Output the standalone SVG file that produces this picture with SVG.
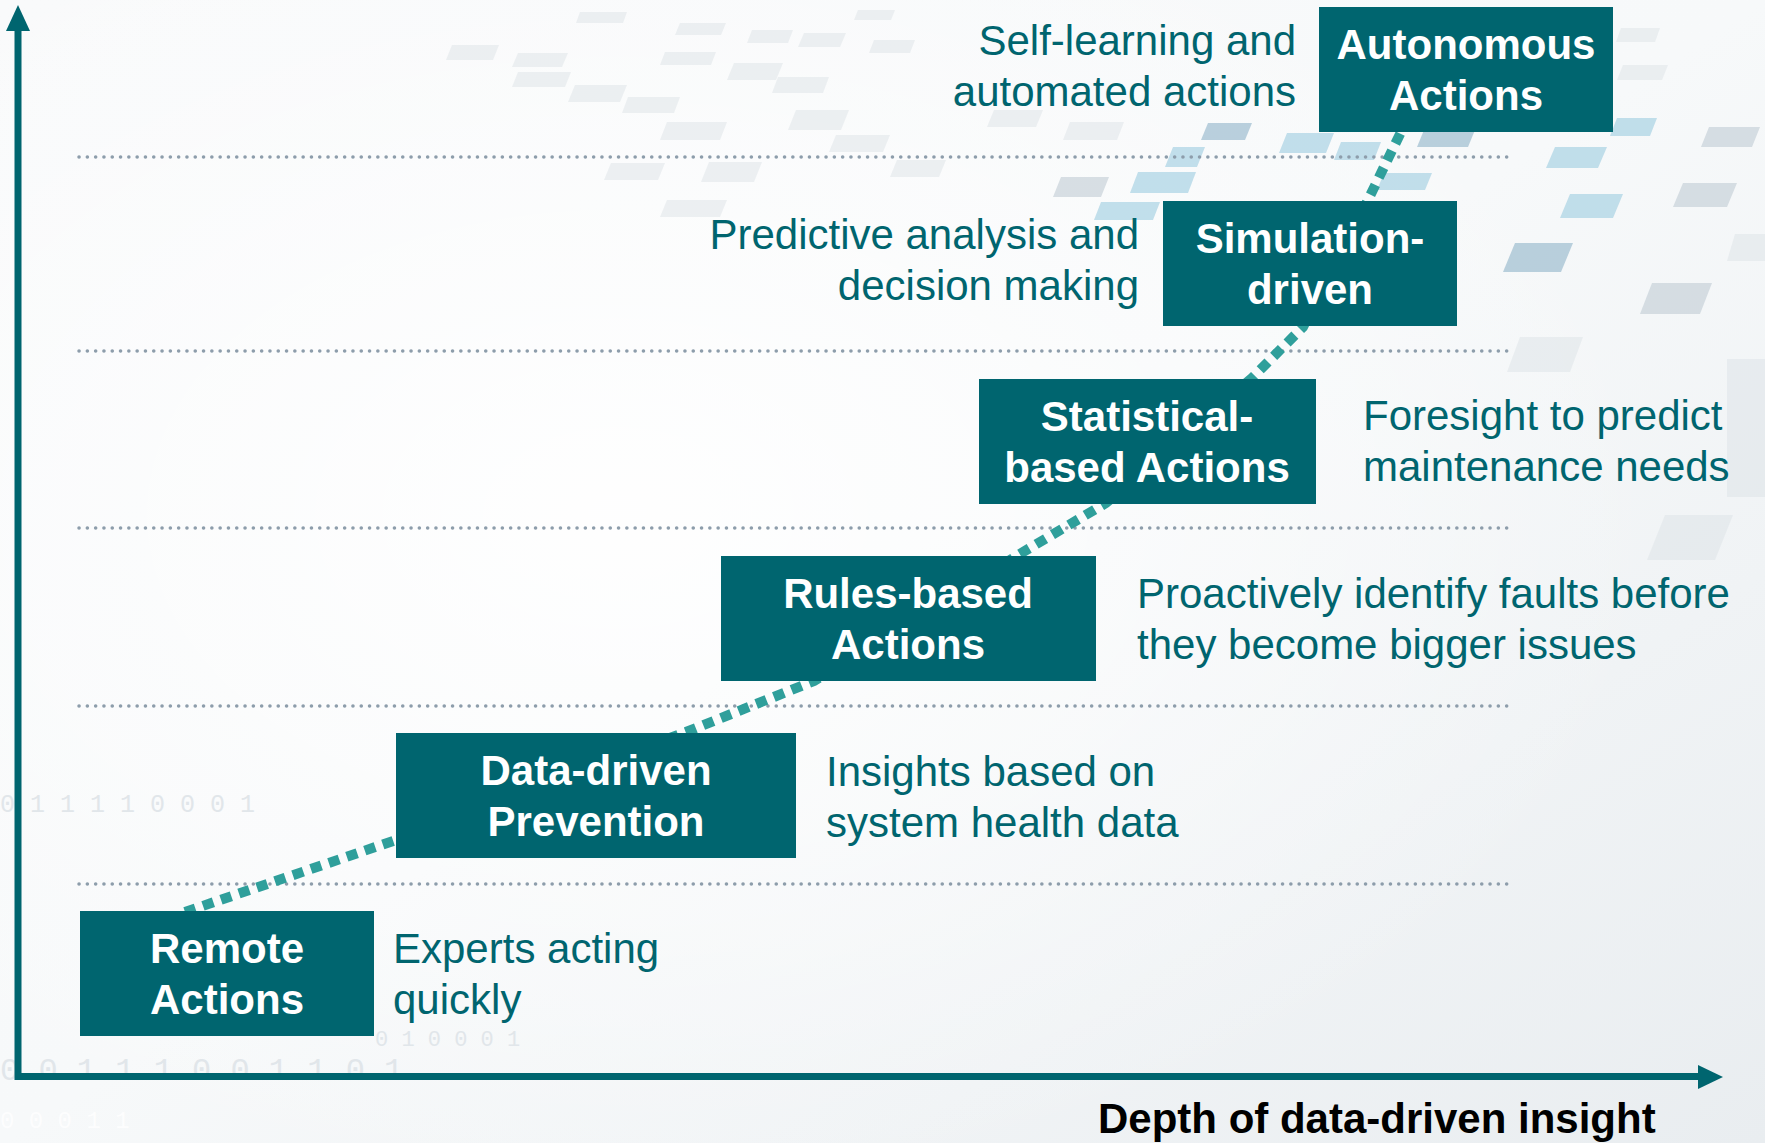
<svg xmlns="http://www.w3.org/2000/svg" width="1765" height="1143" viewBox="0 0 1765 1143">
  <defs>
    <linearGradient id="bg" x1="0" y1="0" x2="1" y2="1">
      <stop offset="0" stop-color="#f9fafb"/>
      <stop offset="0.5" stop-color="#f7f9fa"/>
      <stop offset="1" stop-color="#e9edf0"/>
    </linearGradient>
    <radialGradient id="glow" cx="0.35" cy="0.45" r="0.6">
      <stop offset="0" stop-color="#ffffff" stop-opacity="0.9"/>
      <stop offset="1" stop-color="#ffffff" stop-opacity="0"/>
    </radialGradient>
    <style>
      .box { fill: #00656f; }
      .lbl { font-family: "Liberation Sans", Arial, sans-serif; font-weight: bold; font-size: 42px; fill: #ffffff; text-anchor: middle; }
      .desc { font-family: "Liberation Sans", Arial, sans-serif; font-size: 42px; fill: #00656f; }
      .end { text-anchor: end; }
      .grid { stroke: #8d9dab; stroke-width: 3.5; stroke-linecap: round; stroke-dasharray: 0.1 8.2; fill: none; }
      .axis { stroke: #00656f; stroke-width: 7; fill: none; }
      .axhead { fill: #00656f; }
      .path { stroke: #2f9f9b; stroke-width: 10; stroke-dasharray: 11 8; fill: none; }
      .tf { fill: #d9e0e5; opacity: 0.45; }
      .tg { fill: #bfcbd3; opacity: 0.6; }
      .tb { fill: #a3cfe2; opacity: 0.65; }
      .ts { fill: #97b8cd; opacity: 0.65; }
      .bin { font-family: "Liberation Mono", "DejaVu Sans Mono", monospace; fill: #e1e6ea; }
      .binw { font-family: "Liberation Mono", "DejaVu Sans Mono", monospace; fill: #ffffff; opacity: 0.8; }
      .xlabel { font-family: "Liberation Sans", Arial, sans-serif; font-weight: bold; font-size: 42px; fill: #000000; }
    </style>
  </defs>

  <g id="background">
    <rect x="0" y="0" width="1765" height="1143" fill="url(#bg)"/>
    <rect x="0" y="0" width="1765" height="1143" fill="url(#glow)"/>
    <polygon class="tf" points="452,45 499,45 493,60 446,60"/>
    <polygon class="tf" points="518,53 568,53 562,67 512,67"/>
    <polygon class="tf" points="518,72 571,72 565,87 512,87"/>
    <polygon class="tf" points="575,85 627,85 620,102 568,102"/>
    <polygon class="tf" points="628,97 680,97 674,113 622,113"/>
    <polygon class="tf" points="580,12 627,12 623,23 576,23"/>
    <polygon class="tf" points="665,52 716,52 711,65 660,65"/>
    <polygon class="tf" points="680,23 726,23 721,35 675,35"/>
    <polygon class="tf" points="734,63 783,63 776,80 727,80"/>
    <polygon class="tf" points="752,30 793,30 788,43 747,43"/>
    <polygon class="tf" points="778,77 829,77 823,93 772,93"/>
    <polygon class="tf" points="804,33 846,33 840,47 798,47"/>
    <polygon class="tf" points="667,122 727,122 720,140 660,140"/>
    <polygon class="tf" points="796,110 849,110 841,130 788,130"/>
    <polygon class="tf" points="836,135 890,135 883,152 829,152"/>
    <polygon class="tf" points="874,40 915,40 910,53 869,53"/>
    <polygon class="tf" points="858,10 895,10 891,20 854,20"/>
    <polygon class="tf" points="994,110 1043,110 1036,127 987,127"/>
    <polygon class="tf" points="1070,122 1124,122 1117,140 1063,140"/>
    <polygon class="tf" points="611,163 665,163 658,180 604,180"/>
    <polygon class="tf" points="709,162 762,162 754,182 701,182"/>
    <polygon class="tf" points="897,160 946,160 939,177 890,177"/>
    <polygon class="tf" points="667,200 727,200 720,217 660,217"/>
    <polygon class="tg" points="1061,177 1109,177 1101,197 1053,197"/>
    <polygon class="ts" points="1208,123 1252,123 1245,140 1201,140"/>
    <polygon class="tb" points="1138,172 1196,172 1188,193 1130,193"/>
    <polygon class="tb" points="1101,202 1160,202 1153,220 1094,220"/>
    <polygon class="tb" points="1173,147 1205,147 1197,167 1165,167"/>
    <polygon class="tb" points="1287,133 1334,133 1326,153 1279,153"/>
    <polygon class="tb" points="1341,142 1381,142 1374,160 1334,160"/>
    <polygon class="ts" points="1424,130 1475,130 1468,147 1417,147"/>
    <polygon class="tb" points="1384,173 1432,173 1425,190 1377,190"/>
    <polygon class="tb" points="1555,147 1607,147 1598,168 1546,168"/>
    <polygon class="tb" points="1570,194 1623,194 1613,218 1560,218"/>
    <polygon class="ts" points="1515,243 1573,243 1561,272 1503,272"/>
    <polygon class="tg" points="1652,283 1712,283 1700,314 1640,314"/>
    <polygon class="tg" points="1683,183 1737,183 1727,207 1673,207"/>
    <polygon class="tg" points="1709,127 1760,127 1752,147 1701,147"/>
    <polygon class="tb" points="1617,118 1657,118 1650,136 1610,136"/>
    <polygon class="tf" points="1623,65 1668,65 1662,80 1617,80"/>
    <polygon class="tf" points="1621,28 1660,28 1655,42 1616,42"/>
    <polygon class="tf" points="1735,234 1765,234 1765,261 1727,261"/>
    <polygon class="tf" points="1520,337 1583,337 1570,372 1507,372"/>
    <polygon class="tf" points="1665,515 1733,515 1715,560 1647,560" opacity="0.3"/>
    <rect class="tf" x="1727" y="359" width="38" height="138"/>
    <text class="bin" x="0" y="812" font-size="25" xml:space="preserve">0 1 1 1 1 0 0 0 1</text>
    <text class="bin" x="375" y="1046" font-size="22" xml:space="preserve">0 1 0 0 0 1</text>
    <text class="bin" x="0" y="1080" font-size="32" xml:space="preserve">0 0 1 1 1 0 0 1 1 0 1</text>
    <text class="binw" x="0" y="1128" font-size="24" xml:space="preserve">0 0 0 1 1</text>
  </g>

  <g id="gridlines">
    <line class="grid" x1="79" y1="157" x2="1512" y2="157"/>
    <line class="grid" x1="79" y1="351" x2="1512" y2="351"/>
    <line class="grid" x1="79" y1="528" x2="1512" y2="528"/>
    <line class="grid" x1="79" y1="706" x2="1512" y2="706"/>
    <line class="grid" x1="79" y1="884" x2="1512" y2="884"/>
  </g>

  <g id="axes">
    <polyline class="axis" points="18,28 18,1076.5 1700,1076.5"/>
    <polygon class="axhead" points="18,5 6,31 30,31"/>
    <polygon class="axhead" points="1723,1077 1698,1065 1698,1089"/>
    <text class="xlabel" x="1098" y="1133">Depth of data-driven insight</text>
  </g>

  <g id="connectors">
    <polyline class="path" points="185,912 396,840 686,732 814,681 1018,555 1106,503 1252,378 1303,327 1368,200 1401,132"/>
  </g>

  <g id="node-remote">
    <rect class="box" x="80" y="911" width="294" height="125"/>
    <text class="lbl" x="227" y="963">Remote</text>
    <text class="lbl" x="227" y="1014">Actions</text>
    <text class="desc" x="393" y="963">Experts acting</text>
    <text class="desc" x="393" y="1014">quickly</text>
  </g>

  <g id="node-data">
    <rect class="box" x="396" y="733" width="400" height="125"/>
    <text class="lbl" x="596" y="785">Data-driven</text>
    <text class="lbl" x="596" y="836">Prevention</text>
    <text class="desc" x="826" y="786">Insights based on</text>
    <text class="desc" x="826" y="837">system health data</text>
  </g>

  <g id="node-rules">
    <rect class="box" x="721" y="556" width="375" height="125"/>
    <text class="lbl" x="908" y="608">Rules-based</text>
    <text class="lbl" x="908" y="659">Actions</text>
    <text class="desc" x="1137" y="608">Proactively identify faults before</text>
    <text class="desc" x="1137" y="659">they become bigger issues</text>
  </g>

  <g id="node-statistical">
    <rect class="box" x="979" y="379" width="337" height="125"/>
    <text class="lbl" x="1147" y="431">Statistical-</text>
    <text class="lbl" x="1147" y="482">based Actions</text>
    <text class="desc" x="1363" y="430">Foresight to predict</text>
    <text class="desc" x="1363" y="481">maintenance needs</text>
  </g>

  <g id="node-simulation">
    <rect class="box" x="1163" y="201" width="294" height="125"/>
    <text class="lbl" x="1310" y="253">Simulation-</text>
    <text class="lbl" x="1310" y="304">driven</text>
    <text class="desc end" x="1139" y="249">Predictive analysis and</text>
    <text class="desc end" x="1139" y="300">decision making</text>
  </g>

  <g id="node-autonomous">
    <rect class="box" x="1319" y="7" width="294" height="125"/>
    <text class="lbl" x="1466" y="59">Autonomous</text>
    <text class="lbl" x="1466" y="110">Actions</text>
    <text class="desc end" x="1296" y="55">Self-learning and</text>
    <text class="desc end" x="1296" y="106">automated actions</text>
  </g>
</svg>
